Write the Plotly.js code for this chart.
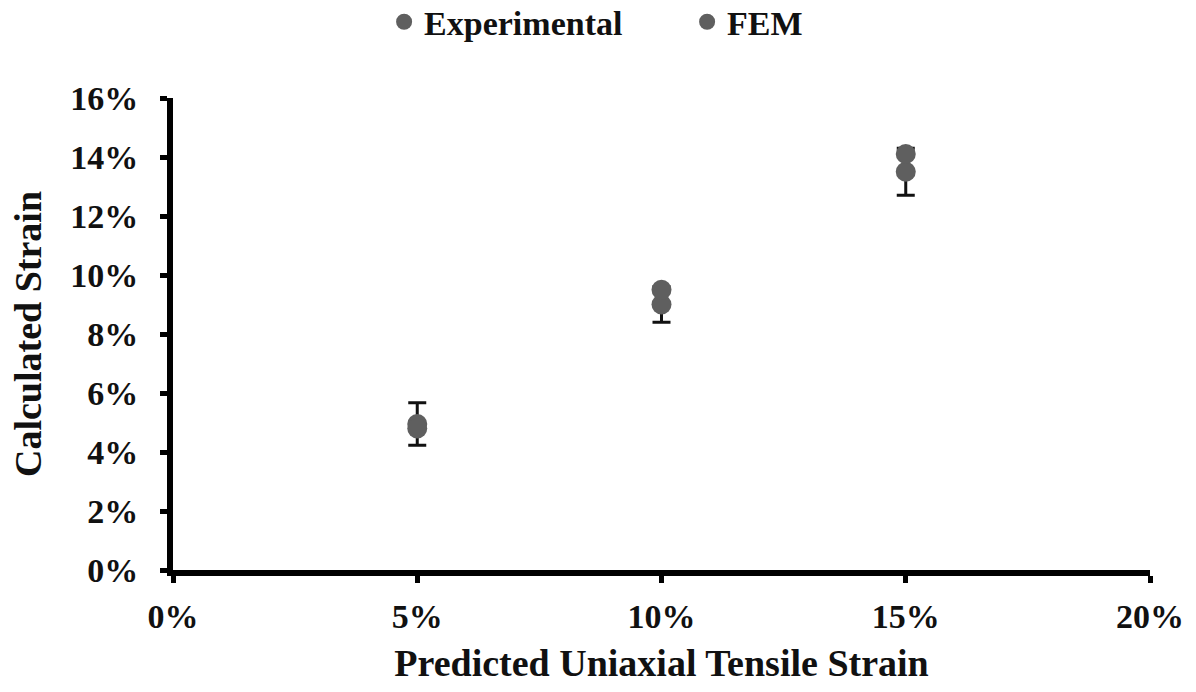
<!DOCTYPE html>
<html><head><meta charset="utf-8">
<script src="https://cdn.plot.ly/plotly-3.0.1.min.js"></script>
<style>html,body{margin:0;padding:0;background:#fff}#chart{width:1196px;height:692px}</style>
</head><body><div id="chart"></div>
<script>
// Predicted strain (%)
const predicted = [5, 10, 15];
// Experimental calculated strain (%) with error (%)
const experimental = [4.95, 9.0, 13.5];
const experimentalErr = [0.72, 0.6, 0.8];
// FEM calculated strain (%)
const fem = [4.8, 9.5, 14.1];
const xTicks = [0, 5, 10, 15, 20];
const yTicks = [0, 2, 4, 6, 8, 10, 12, 14, 16];
const xTickText = xTicks.map(v => v + '%');
const yTickText = yTicks.map(v => v + '%');

const fontFam = '"Liberation Serif", "Times New Roman", serif';
const markerColor = '#5f5f5f';

const traces = [
  {x: predicted, y: experimental, name: 'Experimental', type: 'scatter', mode: 'markers',
   marker: {size: 20, color: markerColor},
   error_y: {type: 'data', array: experimentalErr, visible: true, color: '#111', thickness: 3, width: 9}},
  {x: predicted, y: fem, name: 'FEM', type: 'scatter', mode: 'markers',
   marker: {size: 20, color: markerColor}}
];

const axisCommon = {
  showline: true, linecolor: '#000', linewidth: 6, showgrid: false, zeroline: false,
  ticks: 'outside', ticklen: 7, tickwidth: 5, tickcolor: '#000',
  tickfont: {family: fontFam, size: 34, color: '#111', weight: 'bold'}
};

const layout = {
  width: 1196, height: 692,
  margin: {l: 173, r: 46, t: 98, b: 122},
  paper_bgcolor: '#fff', plot_bgcolor: '#fff',
  font: {family: fontFam, color: '#111', weight: 'bold'},
  showlegend: true,
  legend: {orientation: 'h', xref: 'container', yref: 'container', x: 0.5745, xanchor: 'center', y: 0.968, yanchor: 'middle',
    font: {family: fontFam, size: 34, color: '#111', weight: 'bold'}, itemwidth: 30, tracegroupgap: 0,
    entrywidth: 258, entrywidthmode: 'pixels'},
  xaxis: Object.assign({}, axisCommon, {range: [0, 20], tickmode: 'array', tickvals: xTicks, ticktext: xTickText, ticklabelstandoff: 4,
    title: {text: 'Predicted Uniaxial Tensile Strain', standoff: 18, font: {family: fontFam, size: 38, color: '#111', weight: 'bold'}}}),
  yaxis: Object.assign({}, axisCommon, {range: [0, 16], tickmode: 'array', tickvals: yTicks, ticktext: yTickText, ticklabelstandoff: 15,
    title: {text: 'Calculated Strain', standoff: 19, font: {family: fontFam, size: 38, color: '#111', weight: 'bold'}}})
};

Plotly.newPlot('chart', traces, layout, {displayModeBar: false, staticPlot: true});
</script>
</body></html>
